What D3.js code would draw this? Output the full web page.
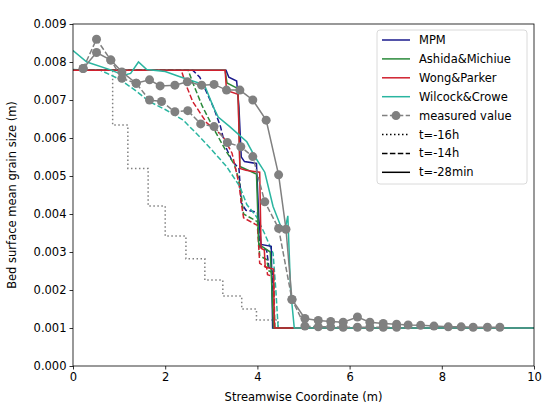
<!DOCTYPE html>
<html>
<head>
<meta charset="utf-8">
<script src="https://cdn.jsdelivr.net/npm/d3@7"></script>
<style>
  body { margin: 0; background: #fff; }
  text { font-family: "DejaVu Sans", sans-serif; }
</style>
</head>
<body>
<div id="main"></div>
<script>
const ctx = { w: 543, h: 407, left: 73, right: 534, top: 24, bottom: 366 };

// values in mm (scaled to m when drawn), x in m
const xTicks = [0, 2, 4, 6, 8, 10];
const yTicks = [0, 0.001, 0.002, 0.003, 0.004, 0.005, 0.006, 0.007, 0.008, 0.009];

// model results, t=-28min (solid)
const mpmLate = [[0,7.78],[3.32,7.78],[3.38,7.6],[3.55,7.5],[3.6,6.8],[3.65,5.5],[3.72,5.38],[3.98,5.33],[4.03,3.9],[4.08,3.2],[4.3,3.15],[4.33,1.0],[10,1.0]];
const ashidaLate = [[0,7.78],[3.3,7.78],[3.34,7.45],[3.58,7.3],[3.62,5.25],[3.98,5.05],[4.03,3.2],[4.28,3.0],[4.35,1.0],[10,1.0]];
const wongLate = [[0,7.78],[3.3,7.78],[3.33,7.25],[3.58,7.15],[3.62,5.2],[3.75,5.15],[4.05,5.1],[4.08,3.1],[4.15,3.05],[4.17,2.6],[4.35,2.55],[4.37,1.0],[10,1.0]];
const wilcockLate = [[0,8.3],[0.3,8.0],[0.8,7.8],[1.1,7.65],[1.25,7.7],[1.42,8.0],[1.6,7.8],[2.0,7.75],[2.35,7.6],[2.85,7.4],[3.05,6.8],[3.15,6.55],[3.4,6.3],[3.77,5.9],[3.95,5.5],[4.16,5.1],[4.34,4.2],[4.5,3.7],[4.6,3.6],[4.66,3.95],[4.72,2.0],[4.8,1.0],[10,1.0]];

// model results, t=-14h (dashed)
const mpmMid = [[0,7.78],[2.6,7.78],[2.75,7.6],[2.9,7.2],[3.05,6.8],[3.2,6.3],[3.3,5.8],[3.45,5.4],[3.6,5.2],[3.65,4.3],[3.75,4.1],[4.0,4.05],[4.05,3.15],[4.2,3.05],[4.25,2.6],[4.32,2.5],[4.35,1.0],[10,1.0]];
const ashidaMid = [[0,7.78],[2.5,7.78],[2.6,7.45],[2.8,6.85],[3.05,6.25],[3.3,5.7],[3.5,5.3],[3.6,4.9],[3.65,4.5],[3.7,4.0],[4.0,3.8],[4.05,2.9],[4.2,2.8],[4.25,2.5],[4.35,2.45],[4.38,1.0],[10,1.0]];
const wongMid = [[0,7.78],[2.35,7.78],[2.45,7.4],[2.6,6.95],[2.9,6.4],[3.25,6.05],[3.45,5.6],[3.6,4.8],[3.65,4.3],[3.7,3.9],[4.0,3.7],[4.05,2.7],[4.2,2.6],[4.22,2.4],[4.35,2.35],[4.37,1.0],[10,1.0]];
const wilcockMid = [[0,7.8],[0.6,7.78],[1.0,7.55],[1.3,7.3],[1.67,6.95],[2.0,6.75],[2.39,6.47],[2.75,6.03],[3.0,5.7],[3.33,5.25],[3.62,4.72],[3.77,4.25],[3.98,3.93],[4.15,3.5],[4.34,2.97],[4.4,2.0],[4.45,1.0],[10,1.0]];

// initial state, t=-16h (dotted)
const initEarly = [[0,7.78],[0.86,7.78],[0.86,6.34],[1.19,6.34],[1.19,5.2],[1.63,5.2],[1.63,4.21],[2.0,4.21],[2.0,3.42],[2.45,3.42],[2.45,2.82],[2.86,2.82],[2.86,2.26],[3.25,2.26],[3.25,1.84],[3.66,1.84],[3.66,1.5],[3.98,1.5],[3.98,1.21],[4.45,1.21],[4.45,1.0],[10,1.0]];

// measured values
const measLate = [[0.22,7.83],[0.51,8.25],[0.82,8.05],[1.06,7.74],[1.37,7.44],[1.66,7.53],[1.89,7.37],[2.21,7.39],[2.48,7.48],[2.79,7.39],[3.06,7.41],[3.33,7.26],[3.62,7.26],[3.9,7.0],[4.19,6.47],[4.46,5.03],[4.62,3.6],[4.75,1.75],[5.03,1.25],[5.32,1.2],[5.59,1.17],[5.86,1.15],[6.17,1.29],[6.44,1.15],[6.73,1.12],[7.02,1.1],[7.27,1.08],[7.54,1.07],[7.83,1.05],[8.14,1.03],[8.42,1.03],[8.68,1.02],[8.99,1.02],[9.26,1.02]];
const measMid = [[0.22,7.83],[0.51,8.6],[0.82,8.05],[1.06,7.57],[1.37,7.44],[1.66,7.0],[1.92,6.96],[2.21,6.69],[2.49,6.72],[2.77,6.37],[3.06,6.3],[3.35,5.88],[3.64,5.77],[3.9,5.51],[4.16,4.32],[4.46,3.62],[4.75,1.75],[5.03,1.05],[5.32,1.03],[5.59,1.03],[5.86,1.02],[6.17,1.02],[6.44,1.02],[6.73,1.02],[7.02,1.02]];

const colors = { mpm: "#1a1a8c", ashida: "#2a8a3a", wong: "#d0202e", wilcock: "#2ab5a0", meas: "#808080" };
const dash = { solid: null, dashed: "5.5,2.4", dotted: "1.5,2.5" };

function createViz() {
  const svg = d3.select("#main").append("svg")
    .attr("width", ctx.w).attr("height", ctx.h);

  const x = d3.scaleLinear().domain([0, 10]).range([ctx.left, ctx.right]);
  const y = d3.scaleLinear().domain([0, 0.009]).range([ctx.bottom, ctx.top]);
  const line = d3.line().x(d => x(d[0])).y(d => y(d[1] / 1000));

  svg.append("clipPath").attr("id", "plot-clip").append("rect")
    .attr("x", ctx.left).attr("y", ctx.top)
    .attr("width", ctx.right - ctx.left).attr("height", ctx.bottom - ctx.top);
  const plot = svg.append("g").attr("clip-path", "url(#plot-clip)");

  const series = [
    { d: initEarly, c: colors.meas, s: dash.dotted },
    { d: mpmMid, c: colors.mpm, s: dash.dashed },
    { d: ashidaMid, c: colors.ashida, s: dash.dashed },
    { d: wongMid, c: colors.wong, s: dash.dashed },
    { d: wilcockMid, c: colors.wilcock, s: dash.dashed },
    { d: mpmLate, c: colors.mpm, s: dash.solid },
    { d: ashidaLate, c: colors.ashida, s: dash.solid },
    { d: wongLate, c: colors.wong, s: dash.solid },
    { d: wilcockLate, c: colors.wilcock, s: dash.solid },
  ];
  series.forEach(sr => {
    plot.append("path").datum(sr.d)
      .attr("d", line).attr("fill", "none")
      .attr("stroke", sr.c).attr("stroke-width", 1.5)
      .attr("stroke-dasharray", sr.s);
  });

  // measured values with markers
  [{ d: measMid, s: dash.dashed }, { d: measLate, s: dash.solid }].forEach(m => {
    plot.append("path").datum(m.d)
      .attr("d", line).attr("fill", "none")
      .attr("stroke", colors.meas).attr("stroke-width", 1.5)
      .attr("stroke-dasharray", m.s);
    plot.append("g").selectAll("circle").data(m.d).enter().append("circle")
      .attr("cx", d => x(d[0])).attr("cy", d => y(d[1] / 1000))
      .attr("r", 4.5).attr("fill", colors.meas);
  });

  // axes
  const xAxis = svg.append("g").attr("transform", `translate(0,${ctx.bottom})`)
    .call(d3.axisBottom(x).tickValues(xTicks).tickFormat(d3.format("d")).tickSize(3.5).tickPadding(3));
  const yAxis = svg.append("g").attr("transform", `translate(${ctx.left},0)`)
    .call(d3.axisLeft(y).tickValues(yTicks).tickFormat(d3.format(".3f")).tickSize(3.5).tickPadding(3));
  [xAxis, yAxis].forEach(a => {
    a.select(".domain").remove();
    a.selectAll("text").attr("font-size", 11.5).attr("fill", "#000")
      .style("font-family", "DejaVu Sans, sans-serif");
    a.selectAll("line").attr("stroke", "#000").attr("stroke-width", 0.8);
  });

  svg.append("rect")
    .attr("x", ctx.left).attr("y", ctx.top)
    .attr("width", ctx.right - ctx.left).attr("height", ctx.bottom - ctx.top)
    .attr("fill", "none").attr("stroke", "#000").attr("stroke-width", 0.8);

  svg.append("text")
    .attr("x", (ctx.left + ctx.right) / 2).attr("y", 401)
    .attr("text-anchor", "middle").attr("font-size", 11.5)
    .text("Streamwise Coordinate (m)");
  svg.append("text")
    .attr("transform", `translate(16,${(ctx.top + ctx.bottom) / 2}) rotate(-90)`)
    .attr("text-anchor", "middle").attr("font-size", 11.5)
    .text("Bed surface mean grain size (m)");

  // legend
  const items = [
    { label: "MPM", c: colors.mpm, s: dash.solid },
    { label: "Ashida&Michiue", c: colors.ashida, s: dash.solid },
    { label: "Wong&Parker", c: colors.wong, s: dash.solid },
    { label: "Wilcock&Crowe", c: colors.wilcock, s: dash.solid },
    { label: "measured value", c: colors.meas, s: dash.dashed, marker: true },
    { label: "t=-16h", c: "#000", s: dash.dotted },
    { label: "t=-14h", c: "#000", s: dash.dashed },
    { label: "t=-28min", c: "#000", s: dash.solid },
  ];
  const lg = svg.append("g").attr("transform", "translate(377,30)");
  lg.append("rect").attr("width", 150).attr("height", 154).attr("rx", 3)
    .attr("fill", "#fff").attr("fill-opacity", 0.8)
    .attr("stroke", "#d0d0d0").attr("stroke-width", 0.8);
  const row = lg.selectAll("g.item").data(items).enter().append("g")
    .attr("class", "item")
    .attr("transform", (d, i) => `translate(0,${10 + i * 18.9})`);
  row.append("line").attr("x1", 5).attr("x2", 33)
    .attr("stroke", d => d.c).attr("stroke-width", 1.5)
    .attr("stroke-dasharray", d => d.s);
  row.filter(d => d.marker).append("circle")
    .attr("cx", 19).attr("r", 4.5).attr("fill", colors.meas);
  row.append("text").attr("x", 42).attr("dy", "0.35em")
    .attr("font-size", 11.5).text(d => d.label);
}

createViz();
</script>
</body>
</html>
